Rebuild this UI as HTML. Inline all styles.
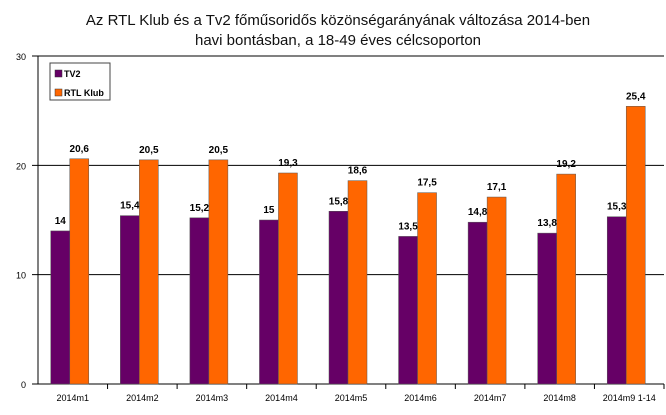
<!DOCTYPE html>
<html><head><meta charset="utf-8"><style>
body{margin:0;background:#fff;width:666px;height:410px;overflow:hidden}
svg{font-family:"Liberation Sans",sans-serif}
</style></head><body>
<svg id="c" width="666" height="410">
<text x="338" y="25" text-anchor="middle" font-size="15" fill="#111">Az RTL Klub és a Tv2 főműsoridős közönségarányának változása 2014-ben</text>
<text x="338" y="45" text-anchor="middle" font-size="15" fill="#111">havi bontásban, a 18-49 éves célcsoporton</text>
<g id="plot"></g>
<g>
<rect x="50" y="63" width="60" height="37" fill="#fff" stroke="#444"/>
<rect x="55" y="70" width="7" height="7" fill="#660066" stroke="#333" stroke-width="0.5"/>
<text x="64" y="77" font-size="9" font-weight="bold">TV2</text>
<rect x="55" y="89" width="7" height="7" fill="#ff6600" stroke="#333" stroke-width="0.5"/>
<text x="64" y="96" font-size="9" font-weight="bold">RTL Klub</text>
</g>
</svg>
<script>
const categories=["2014m1","2014m2","2014m3","2014m4","2014m5","2014m6","2014m7","2014m8","2014m9 1-14"];
const tv2=[14,15.4,15.2,15,15.8,13.5,14.8,13.8,15.3];
const rtl=[20.6,20.5,20.5,19.3,18.6,17.5,17.1,19.2,25.4];
const yTicks=[0,10,20,30];
const NS="http://www.w3.org/2000/svg";
const g=document.getElementById("plot");
const x0=38,x1=664,yTop=56,yBot=384,yMax=30;
const bw=(x1-x0)/categories.length;
const y=v=>yBot-(v/yMax)*(yBot-yTop);
const xc=i=>x0+bw*(i+0.5);
function mk(t,a){const e=document.createElementNS(NS,t);for(const k in a)e.setAttribute(k,a[k]);g.appendChild(e);return e;}
yTicks.forEach(t=>{
 const l=mk("line",{x1:x0-6,x2:x1,y1:y(t),y2:y(t),stroke:"#000","stroke-width":1});
 
 
 const tx=mk("text",{x:x0-12,y:y(t)+4,"text-anchor":"end","font-size":9});
 tx.textContent=t;
 
 
});
const ax=mk("line",{x1:x0,x2:x0,y1:yTop,y2:yBot,stroke:"#000"});


const fmt=v=>String(v).replace(".",",");
categories.forEach((c,i)=>{
 const cx=xc(i)-3;
 const tk=mk("line",{x1:x0+bw*(i+1),x2:x0+bw*(i+1),y1:yBot,y2:yBot+5,stroke:"#000"});
 
 
 [[tv2[i],cx-19,"#660066","bar-tv2"],[rtl[i],cx,"#ff6600","bar-rtl"]].forEach(([v,bx,col,nm])=>{
  const r=mk("rect",{x:bx,y:y(v),width:19,height:yBot-y(v),fill:col,stroke:"#555","stroke-width":0.5});
  
  
  const t=mk("text",{x:bx+9.5,y:y(v)-7,"text-anchor":"middle","font-size":10,"font-weight":"bold"});
  t.textContent=fmt(v);
  
  
 });
 const lt=mk("text",{x:xc(i),y:yBot+17,"text-anchor":"middle","font-size":9});
 lt.textContent=c;
 
 
});
</script>
</body></html>
